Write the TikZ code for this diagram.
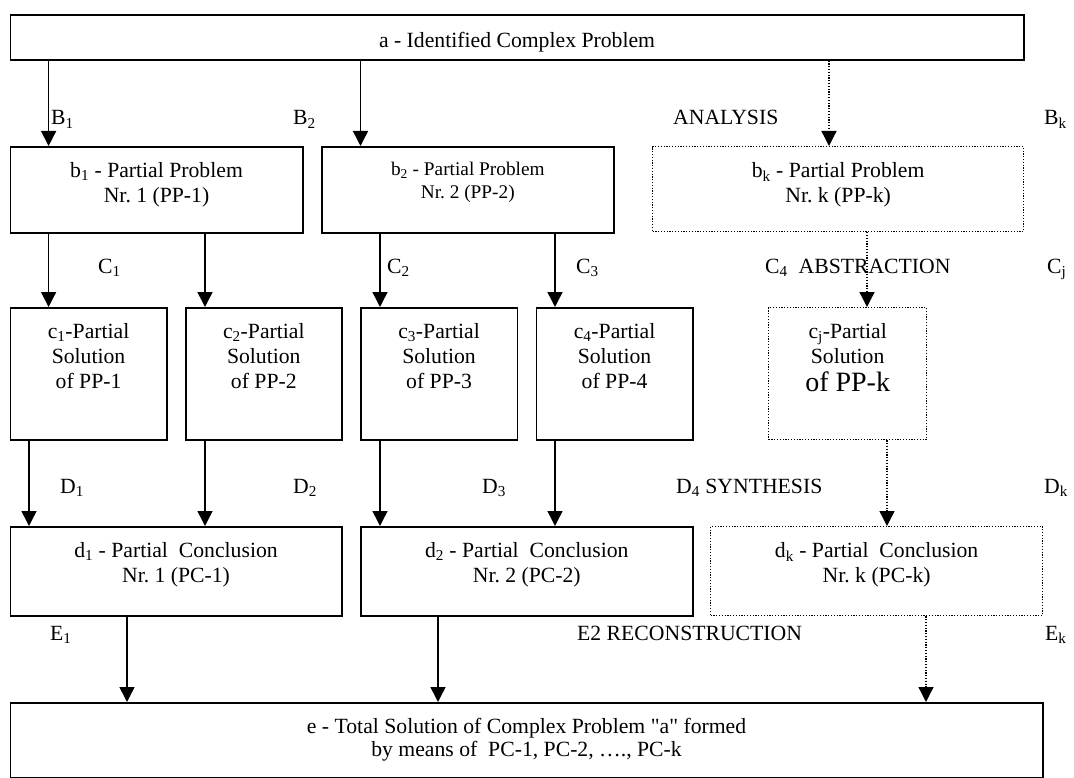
\documentclass[tikz,border=0pt]{standalone}
\usepackage{fontspec}
\setmainfont{Liberation Serif}[Ligatures=TeXOff]
\usetikzlibrary{arrows.meta}

\newcommand{\boxtext}[4][31pt]{\parbox[c][#3][t]{#2}{\centering\rule{0pt}{#1}#4}}

\begin{document}
\begin{tikzpicture}[
  x=1pt, y=-1pt,
  font=\fontsize{21.7}{25}\selectfont,
  box/.style={draw, line width=1.6pt, anchor=north west, inner sep=0pt},
  kbox/.style={box, line width=1.3pt, dash pattern=on 1.2pt off 1.6pt},
  lbl/.style={anchor=base west, inner sep=0pt},
  arr/.style={line width=1.5pt, -{Triangle[width=15pt,length=15pt]}},
  karr/.style={arr, line width=1.3pt, dash pattern=on 1.2pt off 1.6pt}
]
\useasboundingbox (0,0) rectangle (1074,778);

\node [box] (a) at (9.5,14) {\boxtext[33pt]{1013.5pt}{45pt}{a - Identified Complex Problem}};

\node [box] (b1) at (9.5,146) {\boxtext{292.5pt}{86pt}{b\textsubscript{1} - Partial Problem\\Nr.\ 1 (PP-1)}};
\node [box] (b2) at (321,146) {\boxtext[29pt]{292pt}{86pt}{\fontsize{19.3}{22.5}\selectfont b\textsubscript{2} - Partial Problem\\Nr.\ 2 (PP-2)}};
\node [kbox] (bk) at (652,146) {\boxtext{371pt}{85pt}{b\textsubscript{k} - Partial Problem\\Nr.\ k (PP-k)}};

\node [box] (c1) at (9.5,307) {\boxtext{156.5pt}{132pt}{c\textsubscript{1}-Partial\\Solution\\of PP-1}};
\node [box] (c2) at (185,307) {\boxtext{156pt}{132pt}{c\textsubscript{2}-Partial\\Solution\\of PP-2}};
\node [box] (c3) at (360,307) {\boxtext{156.5pt}{132pt}{c\textsubscript{3}-Partial\\Solution\\of PP-3}};
\node [box] (c4) at (535.5,307) {\boxtext{156.5pt}{132pt}{c\textsubscript{4}-Partial\\Solution\\of PP-4}};
\node [kbox] (cj) at (768,307) {\boxtext{158pt}{132pt}{c\textsubscript{j}-Partial\\Solution\\[3pt]{\fontsize{28}{30}\selectfont of PP-k}}};

\node [box] (d1) at (9.5,526) {\boxtext{331.5pt}{89pt}{d\textsubscript{1} - Partial~ Conclusion\\Nr.\ 1 (PC-1)}};
\node [box] (d2) at (360,526) {\boxtext{332pt}{89pt}{d\textsubscript{2} - Partial~ Conclusion\\Nr.\ 2 (PC-2)}};
\node [kbox] (dk) at (710,526) {\boxtext{332pt}{89pt}{d\textsubscript{k} - Partial~ Conclusion\\Nr.\ k (PC-k)}};

\node [box] (e) at (9.5,702) {\boxtext{1032.5pt}{75pt}{e - Total Solution of Complex Problem "a" formed\\[-2pt]by means of~ PC-1, PC-2, …., PC-k}};

\node [lbl] (lB1) at (51,125) {B\textsubscript{1}};
\node [lbl] (lB2) at (293,125) {B\textsubscript{2}};
\node [lbl] (lana) at (673,125) {ANALYSIS};
\node [lbl] (lBk) at (1044,125) {B\textsubscript{k}};

\node [lbl] (lC1) at (98,273) {C\textsubscript{1}};
\node [lbl] (lC2) at (387,273) {C\textsubscript{2}};
\node [lbl] (lC3) at (576,273) {C\textsubscript{3}};
\node [lbl] (labs) at (765,273) {C\textsubscript{4}~ ABSTRACTION};
\node [lbl] (lCj) at (1047,273) {C\textsubscript{j}};

\node [lbl] (lD1) at (60,493) {D\textsubscript{1}};
\node [lbl] (lD2) at (293,493) {D\textsubscript{2}};
\node [lbl] (lD3) at (482,493) {D\textsubscript{3}};
\node [lbl] (lsyn) at (676,493) {D\textsubscript{4} SYNTHESIS};
\node [lbl] (lDk) at (1044,493) {D\textsubscript{k}};

\node [lbl] (lE1) at (50,640) {E\textsubscript{1}};
\node [lbl] (lrec) at (577,640) {E2 RECONSTRUCTION};
\node [lbl] (lEk) at (1045,640) {E\textsubscript{k}};

\foreach \n/\x in {p1/48.6, p2/360.5, p3/829, p4/205, p5/380, p6/555,
                   p7/867, p8/29, p9/887, p10/127, p11/438, p12/926}
  \coordinate (\n) at (\x,0);

\foreach \s/\t/\col in {a/b1/p1, a/b2/p2, b1/c1/p1, b1/c2/p4, b2/c3/p5, b2/c4/p6,
                        c1/d1/p8, c2/d1/p4, c3/d2/p5, c4/d2/p6, d1/e/p10, d2/e/p11}
  \draw [arr] (\s.south -| \col) -- (\t.north -| \col);
\foreach \s/\t/\col in {a/bk/p3, bk/cj/p7, cj/dk/p9, dk/e/p12}
  \draw [karr] (\s.south -| \col) -- (\t.north -| \col);
\end{tikzpicture}
\end{document}
